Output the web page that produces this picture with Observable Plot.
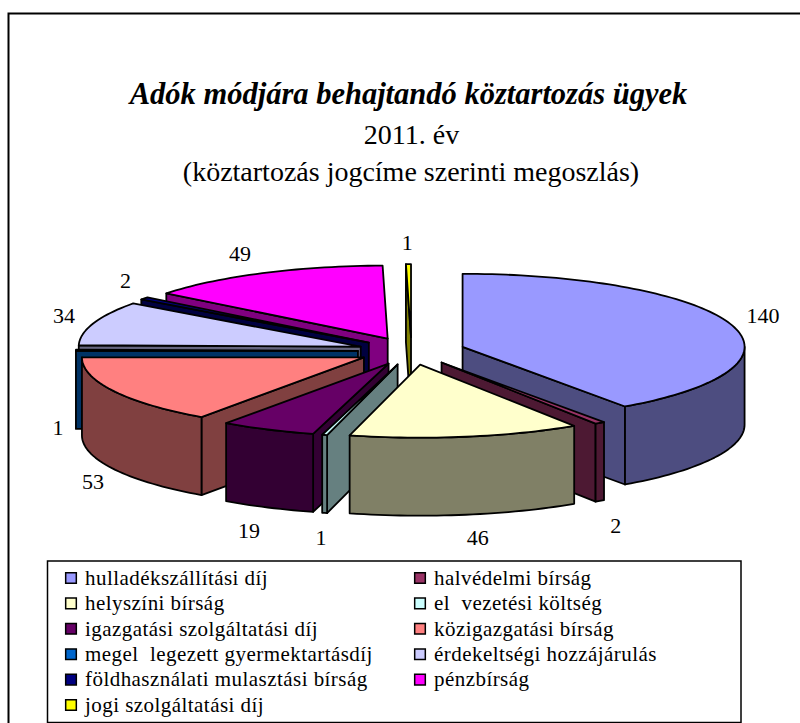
<!DOCTYPE html>
<html><head><meta charset="utf-8">
<script src="https://cdn.jsdelivr.net/npm/d3@7"></script>
<script src="https://cdn.jsdelivr.net/npm/@observablehq/plot@0.6"></script>
<style>html,body{margin:0;padding:0;background:#fff;overflow:hidden}
.legend-text text{letter-spacing:0.45px}</style>
</head><body>
<div id="chart"></div>
<script>
const categories = ["hulladékszállítási díj","halvédelmi bírság","helyszíni bírság","el  vezetési költség","igazgatási szolgáltatási díj","közigazgatási bírság","megel  legezett gyermektartásdíj","érdekeltségi hozzájárulás","földhasználati mulasztási bírság","pénzbírság","jogi szolgáltatási díj"];
const values = [140,2,46,1,19,53,1,34,2,49,1];
const topColors = ["#9999FF","#993366","#FFFFCC","#CCFFFF","#660066","#FF8080","#0066CC","#CCCCFF","#000080","#FF00FF","#FFFF00"];
const sideColors = ["#4D4D80","#4D1933","#808066","#668080","#330033","#804040","#003366","#666680","#000040","#800080","#808000"];
const titleLines = ["Adók módjára behajtandó köztartozás ügyek","2011. év","(köztartozás jogcíme szerinti megoszlás)"];

// pie layout
const cx=411, cy=350.5, rx=282, ry=73, depth=78, explode=0.19;
const labelNudge=[[3,-1],[-1,4],[7,-1],[4,1],[-6,1],[6,1],[12,0],[-1,1],[5,-2],[-9,3],[-1,4]];
const rad=d=>d*Math.PI/180, total=d3.sum(values);
let cum=0;
const slices=values.map((v,i)=>{
  const a0=cum/total*360; cum+=v; const a1=cum/total*360, mid=(a0+a1)/2;
  return {i,v,a0,a1,mid,ox:cx+explode*rx*Math.sin(rad(mid)),oy:cy-explode*ry*Math.cos(rad(mid))};
});
const rim=(s,a)=>[s.ox+rx*Math.sin(rad(a)),s.oy-ry*Math.cos(rad(a))];
const arc=(s,a,b)=>{const n=Math.max(2,Math.ceil((b-a)/1.5));return d3.range(n+1).map(k=>rim(s,a+(b-a)*k/n));};

const polys=[]; let pid=0;
const add=(pts,color)=>{const id=pid++;pts.forEach(p=>polys.push({id,x:p[0],y:p[1],color}));};
const down=p=>[p[0],p[1]+depth];
const wall=(s,a)=>{const c=[s.ox,s.oy],r=rim(s,a);add([c,r,down(r),down(c)],sideColors[s.i]);};
[...slices].sort((p,q)=>Math.cos(rad(q.mid))-Math.cos(rad(p.mid))).forEach(s=>{
  if(Math.sin(rad(s.a1))>0.001) wall(s,s.a1);
  if(Math.sin(rad(s.a0))<-0.001) wall(s,s.a0);
  const lo=Math.max(s.a0,90),hi=Math.min(s.a1,270);
  if(hi>lo){const t=arc(s,lo,hi);add([...t,...t.slice().reverse().map(down)],sideColors[s.i]);}
  add([[s.ox,s.oy],...arc(s,s.a0,s.a1)],topColors[s.i]);
});

const labels=slices.map(s=>{
  const [x,y]=rim(s,s.mid),sn=Math.sin(rad(s.mid)),cs=Math.cos(rad(s.mid));
  return {v:s.v,x:x+30*sn+labelNudge[s.i][0],y:y+(cs<=0.01?depth:0)-25*cs+labelNudge[s.i][1]};
});

const legendItems=categories.map((name,i)=>({name,i,col:i%2,row:Math.floor(i/2),color:topColors[i]}));
const lx=c=>[65,414][c], ly=r=>577.5+r*25.4;
const serif="'Liberation Serif','Times New Roman',serif";
const frame=[{x1:8.5,x2:812,y1:13.5,y2:735}];
const legendBox=[{x1:47.5,x2:741,y1:561,y2:722.5}];
const heads=[
  {t:titleLines[0],x:408,y:93.5,s:30.5,w:"bold",f:"italic"},
  {t:titleLines[1],x:411,y:135,s:28,w:"normal",f:"normal"},
  {t:titleLines[2],x:410.5,y:171.5,s:28,w:"normal",f:"normal"}
];
const headMark=h=>Plot.text([h],{x:"x",y:"y",text:"t",fontSize:h.s,fontWeight:h.w,fontStyle:h.f,fontFamily:serif,fill:"black"});

const chart=Plot.plot({
  width:800,height:723,margin:0,
  x:{domain:[0,800],range:[0,800],axis:null},
  y:{domain:[0,723],range:[0,723],axis:null},
  color:{type:"identity"},
  marks:[
    Plot.rect(frame,{x1:"x1",x2:"x2",y1:"y1",y2:"y2",fill:"white",stroke:"black",strokeWidth:2}),
    ...heads.map(headMark),
    Plot.line(polys,{x:"x",y:"y",z:"id",fill:"color",stroke:"black",strokeWidth:1.8,strokeLinejoin:"round",curve:"linear-closed"}),
    Plot.text(labels,{x:"x",y:"y",text:d=>String(d.v),fontSize:22,fontFamily:serif,fill:"black"}),
    Plot.rect(legendBox,{x1:"x1",x2:"x2",y1:"y1",y2:"y2",fill:"white",stroke:"black",strokeWidth:1.5}),
    Plot.dot(legendItems,{x:d=>lx(d.col)+5.5,y:d=>ly(d.row),symbol:"square",r:6,fill:"color",stroke:"black",strokeWidth:1.5}),
    Plot.text(legendItems,{x:d=>lx(d.col)+19.5,y:d=>ly(d.row),text:"name",textAnchor:"start",fontSize:21,fontFamily:serif,fill:"black",className:"legend-text"})
  ]
});
document.getElementById("chart").appendChild(chart);
</script>
</body></html>
